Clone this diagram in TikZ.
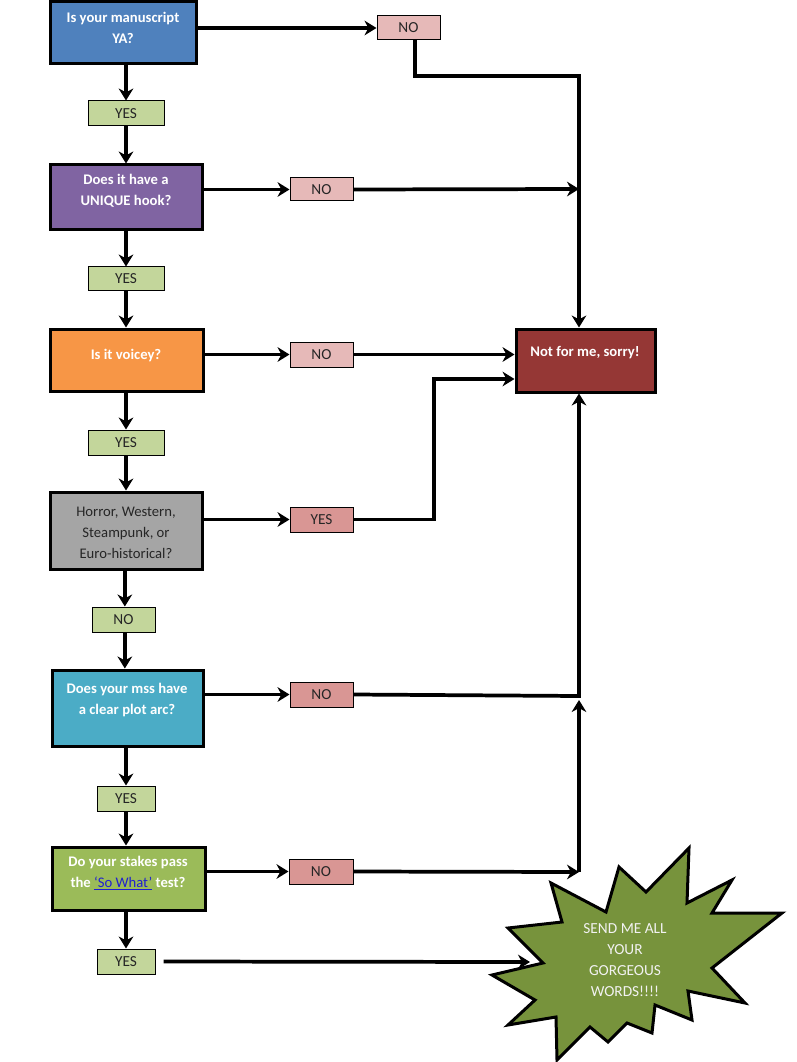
\documentclass[tikz,border=0pt]{standalone}
\usepackage{fontspec}
\setmainfont{Carlito}
\usetikzlibrary{arrows.meta,fit,calc}
\definecolor{qblue}{HTML}{4F81BD}
\definecolor{qpurple}{HTML}{8064A2}
\definecolor{qorange}{HTML}{F79646}
\definecolor{qgray}{HTML}{A5A5A5}
\definecolor{qteal}{HTML}{4BACC6}
\definecolor{qgreen}{HTML}{9BBB59}
\definecolor{qmaroon}{HTML}{953735}
\definecolor{lgreen}{HTML}{C3D69B}
\definecolor{lpink}{HTML}{E6B9B8}
\definecolor{lred}{HTML}{D99694}
\definecolor{starg}{HTML}{77933C}
\definecolor{linkblue}{HTML}{1F1FD0}
\definecolor{dtext}{HTML}{262626}
\begin{document}
\begin{tikzpicture}[x=0.75pt,y=-0.75pt,
  qbox/.style={draw=black, line width=2.25pt, inner sep=0pt},
  lbl/.style={draw=black, line width=0.75pt, inner sep=0pt, font=\fontsize{11.5}{13}\selectfont, text=dtext},
  lblwide/.style={lbl, minimum width=57pt},
  lblmid/.style={lbl, minimum width=47.25pt},
  lblnar/.style={lbl, minimum width=43.5pt},
  qtxt/.style={align=center, inner sep=0pt, font=\fontsize{11}{15.75}\selectfont\bfseries, text=white},
  arr/.style={line width=2.8pt, -{Stealth[length=9pt,width=11pt]}},
  ln/.style={line width=2.8pt}
]
\useasboundingbox[fill=white] (0,0) rectangle (796,1062);

% main question boxes
\node[qbox, fill=qblue,   fit={(50,2) (196,64)}]    (q1) {};
\node[qbox, fill=qpurple, fit={(50,165) (202,230)}] (q2) {};
\node[qbox, fill=qorange, fit={(50,329) (203,391)}] (q3) {};
\node[qbox, fill=qgray,   fit={(50,492) (202,569)}] (q4) {};
\node[qbox, fill=qteal,   fit={(52,670) (203,746)}] (q5) {};
\node[qbox, fill=qgreen,  fit={(52,847) (205,910)}] (q6) {};
\node[qbox, fill=qmaroon, fit={(516,329) (655,392)}] (nf) {};

\node[qtxt] (q1t) at (123,28)  {Is your manuscript\\YA?};
\node[qtxt] (q2t) at (126,191) {Does it have a\\UNIQUE hook?};
\node[qtxt] (q3t) at (126,356) {Is it voicey?};
\node[qtxt, font=\fontsize{11}{15.75}\selectfont, text=dtext] (q4t) at (126,533) {Horror, Western,\\Steampunk, or\\Euro-historical?};
\node[qtxt] (q5t) at (127,700) {Does your mss have\\a clear plot arc?};
\node[qtxt] (q6t) at (128,873) {Do your stakes pass\\the {\mdseries\color{linkblue}\underline{‘So What’}} test?};
\node[qtxt] (nft) at (585,353) {Not for me, sorry!};

% small answer labels
\node[lblmid,  fill=lpink,  minimum height=18pt]    (no1)  at (408.5,28)  {NO};
\node[lblwide, fill=lgreen, minimum height=18.75pt] (y1)   at (126,113.5) {YES};
\node[lblmid,  fill=lpink,  minimum height=17.25pt] (no2)  at (321.5,189.5) {NO};
\node[lblwide, fill=lgreen, minimum height=18pt]    (y2)   at (126,279)   {YES};
\node[lblmid,  fill=lpink,  minimum height=18.75pt] (no3)  at (321.5,354.5) {NO};
\node[lblwide, fill=lgreen, minimum height=18.75pt] (y3)   at (126,442.5) {YES};
\node[lblmid,  fill=lred,   minimum height=18.75pt] (yes4) at (321.5,519.5) {YES};
\node[lblmid,  fill=lgreen, minimum height=18.75pt] (n4)   at (123.5,619.5) {NO};
\node[lblmid,  fill=lred,   minimum height=18.75pt] (no5)  at (321.5,694.5) {NO};
\node[lblnar,  fill=lgreen, minimum height=18.75pt] (y5)   at (126,798.5) {YES};
\node[lblmid,  fill=lred,   minimum height=18.75pt, minimum width=48pt] (no6) at (321,871.5) {NO};
\node[lblnar,  fill=lgreen, minimum height=18.75pt] (y6)   at (126,961.5) {YES};

% starburst
\draw[line width=2.25pt, fill=starg, line join=miter]
  (689,848) -- (687,903) -- (732,880) -- (712,913) -- (782,913) -- (712,968)
  -- (745,1003) -- (688,991) -- (692,1020) -- (655,1005) -- (652,1033)
  -- (627,1023) -- (608,1042) -- (590,1027) -- (557,1060) -- (556,1017)
  -- (508,1025) -- (535,1000) -- (492,975) -- (543,963) -- (508,928)
  -- (562,922) -- (551,883) -- (606,912) -- (619,867) -- (646,892) -- cycle;
\node[align=center, inner sep=0pt, font=\fontsize{11.5}{15.75}\selectfont, text=white!95!black] (star) at (625,960)
  {SEND ME ALL\\YOUR\\GORGEOUS\\WORDS!!!!};
\coordinate (starin) at (530,962);

% helper coordinates
\coordinate (v0) at (415,76);
\coordinate (vx) at (579,76);
\coordinate (va) at (579,189);
\coordinate (jx) at (434,379);
\coordinate (vb) at (579,696);
\coordinate (vc) at (579,872);

% vertical YES/NO chain
\draw[arr] (y1.north |- q1.south) -- (y1.north);
\draw[arr] (y1.south) -- (y1.south |- q2.north);
\draw[arr] (y2.north |- q2.south) -- (y2.north);
\draw[arr] (y2.south) -- (y2.south |- q3.north);
\draw[arr] (y3.north |- q3.south) -- (y3.north);
\draw[arr] (y3.south) -- (y3.south |- q4.north);
\draw[arr] ([xshift=1pt]n4.north |- q4.south) -- ([xshift=1pt]n4.north);
\draw[arr] ([xshift=1pt]n4.south) -- ([xshift=1pt]n4.south |- q5.north);
\draw[arr] (y5.north |- q5.south) -- (y5.north);
\draw[arr] (y5.south) -- (y5.south |- q6.north);
\draw[arr] (y6.north |- q6.south) -- (y6.north);

% horizontal arrows to answer labels
\draw[arr] (q1.east |- no1.west) -- (no1.west);
\draw[arr] (q2.east |- no2.west) -- (no2.west);
\draw[arr] (q3.east |- no3.west) -- (no3.west);
\draw[arr] ([xshift=-1.5pt]q4.east |- yes4.west) -- (yes4.west);
\draw[arr] (q5.east |- no5.west) -- (no5.west);
\draw[arr] (q6.east |- no6.west) -- (no6.west);

% routes to "Not for me"
\draw[arr] (v0 |- no1.south) -- (v0) -- (vx) -- (vx |- nf.north);
\draw[arr] (no2.east) -- (va);
\draw[arr] (no3.east) -- (no3.east -| nf.west);
\draw[arr] (yes4.east) -| (jx) -- (jx -| nf.west);
\draw[arr] (no5.east) -- (vb) -- (vb |- nf.south);
\draw[arr] (no6.east) -- (vc);
\draw[arr] (vc) -- ($(vb)+(0,4)$);

% final YES to starburst
\draw[arr] ([xshift=6pt]y6.east) -- (starin);
\end{tikzpicture}
\end{document}
